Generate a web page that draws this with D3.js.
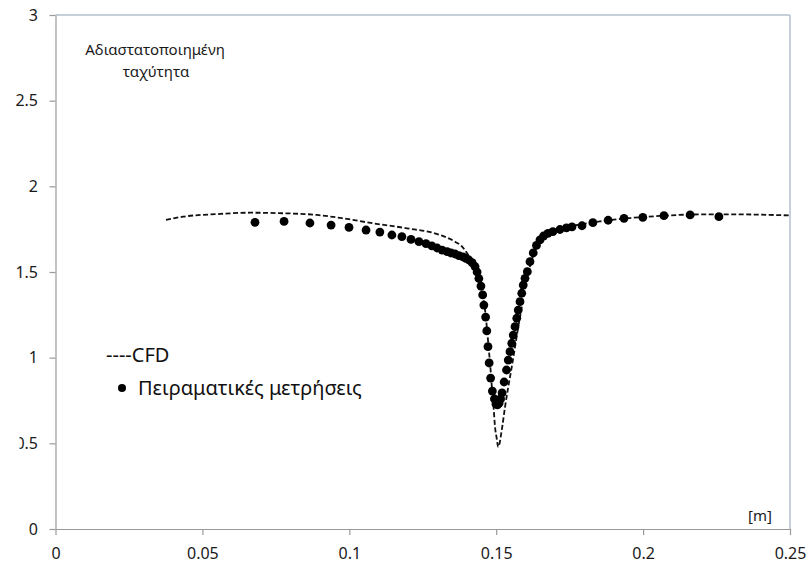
<!DOCTYPE html>
<html>
<head>
<meta charset="utf-8">
<script src="https://cdn.jsdelivr.net/npm/d3@7"></script>
<style>
  html, body { margin: 0; padding: 0; background: #ffffff; }
  svg { display: block; font-family: "Noto Sans", "Open Sans", sans-serif; }
</style>
</head>
<body>
<svg id="chart" width="808" height="564"></svg>
<script>
// ---- data ----
const xTickValues = [0, 0.05, 0.1, 0.15, 0.2, 0.25];
const xTickLabels = ["0", "0.05", "0.1", "0.15", "0.2", "0.25"];
const yTickValues = [0, 0.5, 1, 1.5, 2, 2.5, 3];
const yTickLabels = ["0", "0.5", "1", "1.5", "2", "2.5", "3"];

const expX = [0.0679, 0.0778, 0.0866, 0.0938, 0.0999, 0.1057, 0.1104, 0.1145, 0.1179, 0.1210,
  0.1237, 0.1261, 0.1281, 0.1299, 0.1316, 0.1333, 0.1346, 0.1360, 0.1373, 0.1387,
  0.1397, 0.1407, 0.1418, 0.1428, 0.1435, 0.1441, 0.1448, 0.1454, 0.1458, 0.1464,
  0.1468, 0.1472, 0.1476, 0.1481, 0.1487, 0.1494, 0.1499, 0.1504,
  0.1510, 0.1515, 0.1520, 0.1527, 0.1535, 0.1541, 0.1547, 0.1553, 0.1558, 0.1564,
  0.1570, 0.1575, 0.1581, 0.1587, 0.1592, 0.1598, 0.1606, 0.1615, 0.1626, 0.1637,
  0.1649, 0.1661, 0.1676, 0.1693, 0.1717, 0.1739, 0.1758, 0.1792, 0.1829, 0.1881,
  0.1935, 0.1999, 0.2071, 0.2160, 0.2258];
const expY = [1.790, 1.795, 1.786, 1.774, 1.760, 1.745, 1.733, 1.716, 1.706, 1.690,
  1.677, 1.666, 1.652, 1.640, 1.628, 1.619, 1.611, 1.605, 1.596, 1.588,
  1.579, 1.570, 1.555, 1.532, 1.500, 1.462, 1.418, 1.366, 1.307, 1.237,
  1.156, 1.064, 0.969, 0.881, 0.805, 0.759, 0.730, 0.724,
  0.735, 0.759, 0.794, 0.858, 0.928, 0.986, 1.035, 1.084, 1.132, 1.181,
  1.230, 1.278, 1.327, 1.376, 1.424, 1.463, 1.502, 1.560, 1.611, 1.655,
  1.687, 1.710, 1.726, 1.736, 1.748, 1.757, 1.763, 1.770, 1.788, 1.802,
  1.813, 1.819, 1.829, 1.833, 1.823];

const cfdX = [0.0376, 0.0434, 0.0550, 0.0662, 0.0774, 0.0890, 0.0979, 0.1081, 0.1196, 0.1309,
  0.1360, 0.1384, 0.1401, 0.1414, 0.1428, 0.1438, 0.1448, 0.1455, 0.1462, 0.1469,
  0.1475, 0.1481, 0.1486, 0.1491, 0.1496, 0.1501, 0.1507,
  0.1519, 0.1530, 0.1541, 0.1553, 0.1564, 0.1575, 0.1587, 0.1598, 0.1609, 0.1621,
  0.1635, 0.1649, 0.1666, 0.1690, 0.1724, 0.1785, 0.1853, 0.1955, 0.2057, 0.2193,
  0.2329, 0.2500];
const cfdY = [1.804, 1.823, 1.838, 1.846, 1.843, 1.833, 1.813, 1.784, 1.755, 1.716,
  1.677, 1.648, 1.609, 1.570, 1.529, 1.477, 1.412, 1.354, 1.278, 1.162,
  1.045, 0.928, 0.811, 0.712, 0.595, 0.537, 0.479,
  0.578, 0.712, 0.829, 0.946, 1.062, 1.179, 1.296, 1.412, 1.494, 1.570,
  1.640, 1.687, 1.716, 1.739, 1.757, 1.777, 1.795, 1.815, 1.827, 1.836,
  1.836, 1.830];

const legendCFD = "----CFD";
const legendExp = "Πειραματικές μετρήσεις";
const titleLines = ["Αδιαστατοποιημένη", "ταχύτητα"];
const unitLabel = "[m]";

// ---- layout ----
const svg = d3.select("#chart");
const plotL = 55.5, plotR = 790, plotT = 15, plotB = 529;

const x = d3.scaleLinear().domain([0, 0.25]).range([plotL, plotR]);
const y = d3.scaleLinear().domain([0, 3]).range([plotB, plotT]);

// plot border top/right (blue-grey)
svg.append("line").attr("x1", plotL).attr("x2", plotR).attr("y1", plotT).attr("y2", plotT)
  .attr("stroke", "#b3c0cf").attr("stroke-width", 1.5);
svg.append("line").attr("x1", plotR).attr("x2", plotR).attr("y1", plotT).attr("y2", plotB)
  .attr("stroke", "#b3c0cf").attr("stroke-width", 1.5);

// x axis
const xAxis = d3.axisBottom(x).tickValues(xTickValues)
  .tickFormat((d, i) => xTickLabels[i]).tickSizeInner(6).tickSizeOuter(0).tickPadding(12);
const gx = svg.append("g").attr("transform", `translate(0,${plotB})`).call(xAxis);
gx.select(".domain").attr("stroke", "#9a9a9a").attr("stroke-width", 1.2);
gx.selectAll(".tick line").attr("stroke", "#9a9a9a").attr("stroke-width", 1.2);
gx.selectAll(".tick text").attr("font-size", 16).attr("fill", "#1a1a1a")
  .attr("font-family", "Noto Sans").attr("dy", "0.35em").attr("y", 24);

// y axis
const yAxis = d3.axisLeft(y).tickValues(yTickValues)
  .tickFormat((d, i) => yTickLabels[i]).tickSizeInner(6).tickSizeOuter(0).tickPadding(11);
const gy = svg.append("g").attr("transform", `translate(${plotL},0)`).call(yAxis);
gy.select(".domain").attr("stroke", "#9a9a9a").attr("stroke-width", 1.2);
gy.selectAll(".tick line").attr("stroke", "#9a9a9a").attr("stroke-width", 1.2);
gy.selectAll(".tick text").attr("font-size", 16).attr("fill", "#1a1a1a")
  .attr("font-family", "Noto Sans").attr("x", -17.5);

// the left part of the "0.5" label is cut off in the reference
svg.append("rect").attr("x", 0).attr("y", y(0.5) - 12).attr("width", 19.5).attr("height", 24)
  .attr("fill", "#ffffff");

// CFD dashed line
const pts = cfdX.map((v, i) => [v, cfdY[i]]);
const line = d3.line().x(d => x(d[0])).y(d => y(d[1])).curve(d3.curveMonotoneX);
svg.append("path").attr("d", line(pts)).attr("fill", "none")
  .attr("stroke", "#111").attr("stroke-width", 1.8).attr("stroke-dasharray", "5,2.5");

// experimental dots
svg.append("g").selectAll("circle").data(expX.map((v, i) => [v, expY[i]])).join("circle")
  .attr("cx", d => x(d[0])).attr("cy", d => y(d[1])).attr("r", 4.4).attr("fill", "#000");

// title (y quantity)
svg.append("text").attr("x", 155).attr("y", 55).attr("text-anchor", "middle")
  .attr("font-size", 15).attr("fill", "#1a1a1a").text(titleLines[0]);
svg.append("text").attr("x", 156).attr("y", 77).attr("text-anchor", "middle")
  .attr("font-size", 15).attr("fill", "#1a1a1a").text(titleLines[1]);

// unit label
svg.append("text").attr("x", 760).attr("y", 521).attr("text-anchor", "middle")
  .attr("font-size", 15).attr("fill", "#1a1a1a").text(unitLabel);

// legend
svg.append("text").attr("x", 106).attr("y", 362).attr("font-size", 20)
  .attr("fill", "#111").text(legendCFD);
svg.append("circle").attr("cx", 122).attr("cy", 388).attr("r", 4).attr("fill", "#000");
svg.append("text").attr("x", 138).attr("y", 395).attr("font-size", 20)
  .attr("fill", "#111").text(legendExp);
</script>
</body>
</html>
